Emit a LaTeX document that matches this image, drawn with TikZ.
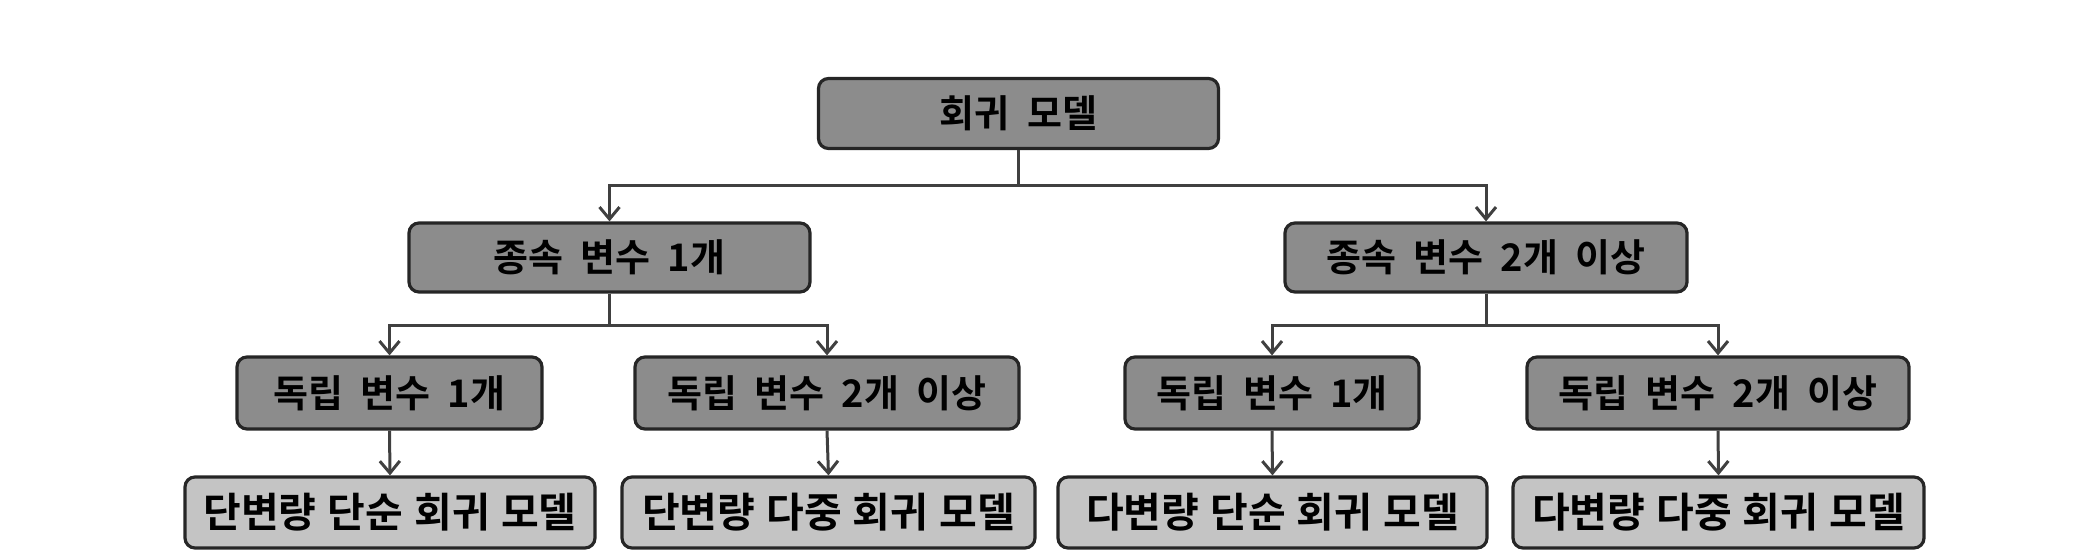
\documentclass[tikz,border=0pt]{standalone}
\usepackage{fontspec}
\setmainfont{Noto Sans CJK KR}[BoldFont={Noto Sans CJK KR Bold}, WordSpace={2}]
\newfontfamily\leaffont{Noto Sans CJK KR}[BoldFont={Noto Sans CJK KR Bold}, WordSpace={1.2}]
\usetikzlibrary{arrows.meta}
\definecolor{boxdark}{HTML}{8C8C8C}
\definecolor{boxlight}{HTML}{C4C4C4}
\definecolor{edgecol}{HTML}{262626}
\definecolor{linecol}{HTML}{404040}
\tikzset{
  basebox/.style={draw=edgecol, line width=1.6pt, rounded corners=5pt, inner sep=0pt, anchor=center, font=\bfseries},
  darkbox/.style={basebox, fill=boxdark, font=\fontsize{19}{22}\selectfont\bfseries},
  lightbox/.style={basebox, fill=boxlight, font=\leaffont\fontsize{20.5}{24}\selectfont\bfseries},
  conn/.style={draw=linecol, line width=1.5pt, -{Straight Barb[length=6pt,width=10pt,line width=1.5pt]}}
}
\begin{document}
\begin{tikzpicture}[x=0.5pt,y=-0.5pt]
\useasboundingbox (0,0) rectangle (2099,556);
% level 1
\node[darkbox, minimum width=200pt, minimum height=35pt] (root) at (1018.5,113.5) {회귀 모델};
% level 2
\node[darkbox, minimum width=200.5pt, minimum height=34.5pt] (dA) at (609.5,257.5) {종속 변수 1개};
\node[darkbox, minimum width=201pt, minimum height=34.5pt] (dB) at (1486,257.5) {종속 변수 2개 이상};
% level 3
\node[darkbox, minimum width=152.5pt, minimum height=36pt] (iA) at (389.5,393) {독립 변수 1개};
\node[darkbox, minimum width=192pt, minimum height=36pt] (iB) at (827,393) {독립 변수 2개 이상};
\node[darkbox, minimum width=147pt, minimum height=36pt] (iC) at (1272,393) {독립 변수 1개};
\node[darkbox, minimum width=191pt, minimum height=36pt] (iD) at (1718,393) {독립 변수 2개 이상};
% level 4
\node[lightbox, minimum width=205pt, minimum height=35.5pt] (mA) at (390,512.5) {단변량 단순 회귀 모델};
\node[lightbox, minimum width=206.5pt, minimum height=35.5pt] (mB) at (828.5,512.5) {단변량 다중 회귀 모델};
\node[lightbox, minimum width=214.5pt, minimum height=35.5pt] (mC) at (1272.5,512.5) {다변량 단순 회귀 모델};
\node[lightbox, minimum width=205.5pt, minimum height=35.5pt] (mD) at (1718.5,512.5) {다변량 다중 회귀 모델};
% junctions
\coordinate (j0) at (1018.5,185);
\coordinate (jA) at (609.5,325);
\coordinate (jB) at (1486,325);
% connectors
\draw[conn] (root.south) -- (j0) -| (dA.north);
\draw[conn] (root.south) -- (j0) -| (dB.north);
\draw[conn] (dA.south) -- (jA) -| (iA.north);
\draw[conn] (dA.south) -- (jA) -| (iB.north);
\draw[conn] (dB.south) -- (jB) -| (iC.north);
\draw[conn] (dB.south) -- (jB) -| (iD.north);
\draw[conn] (iA.south) -- (mA.north);
\draw[conn] (iB.south) -- (mB.north);
\draw[conn] (iC.south) -- (mC.north);
\draw[conn] (iD.south) -- (mD.north);
\end{tikzpicture}
\end{document}
